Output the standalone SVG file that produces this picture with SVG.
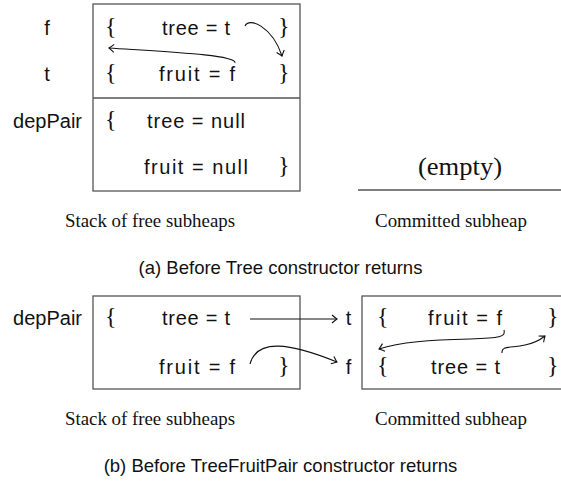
<svg xmlns="http://www.w3.org/2000/svg" width="561" height="483" viewBox="0 0 561 483">
<style>
.box{fill:none;stroke:#555;stroke-width:1.3}
.lbl{font-family:"Liberation Sans",Arial,sans-serif;font-size:20px;fill:#111}
.br{font-family:"Liberation Serif","Times New Roman",serif;font-size:24px;fill:#111}
.cap{font-family:"Liberation Serif","Times New Roman",serif;font-size:18.8px;fill:#111}
.title{font-family:"Liberation Sans",Arial,sans-serif;font-size:18.5px;fill:#111}
.arr{fill:none;stroke:#111;stroke-width:1.1;marker-end:url(#ah)}
</style>
<defs>
<marker id="ah" viewBox="-6 -5 7 10" markerWidth="7" markerHeight="10" refX="0" refY="0" orient="auto" markerUnits="userSpaceOnUse">
<path d="M-5,-4 Q-1.5,-1 0,0 Q-1.5,1 -5,4" fill="none" stroke="#111" stroke-width="1.1"/>
</marker>
</defs>
<rect width="561" height="483" fill="#fff"/>

<g id="part-a">
<g id="stack-a">
<rect class="box" x="93" y="4" width="207" height="187"/>
<line class="box" x1="93" y1="98" x2="300" y2="98"/>
<text class="lbl" x="47" y="35" text-anchor="middle">f</text>
<text class="lbl" x="47" y="81" text-anchor="middle">t</text>
<text class="lbl" x="82" y="128" text-anchor="end">depPair</text>
<g id="heap-f">
<text class="br" x="105" y="34">{</text>
<text class="lbl" x="162" y="35" textLength="68" lengthAdjust="spacing">tree = t</text>
<text class="br" x="278" y="34">}</text>
</g>
<g id="heap-t">
<text class="br" x="105" y="80">{</text>
<text class="lbl" x="159" y="81" textLength="76" lengthAdjust="spacing">fruit = f</text>
<text class="br" x="278" y="80">}</text>
</g>
<g id="heap-depPair">
<text class="br" x="105" y="127">{</text>
<text class="lbl" x="147" y="128" textLength="98" lengthAdjust="spacing">tree = null</text>
<text class="lbl" x="144" y="174" textLength="104" lengthAdjust="spacing">fruit = null</text>
<text class="br" x="278" y="173">}</text>
</g>
</g>
<g id="committed-a">
<text x="460" y="175" text-anchor="middle" font-family="Liberation Serif, Times New Roman, serif" font-size="25" fill="#111" textLength="84" lengthAdjust="spacingAndGlyphs">(empty)</text>
<line x1="358" y1="190" x2="561" y2="190" stroke="#555" stroke-width="1.3"/>
</g>
<text class="cap" x="65" y="227" textLength="170" lengthAdjust="spacingAndGlyphs">Stack of free subheaps</text>
<text class="cap" x="375" y="227" textLength="152" lengthAdjust="spacingAndGlyphs">Committed subheap</text>
<text class="title" x="280.5" y="274" text-anchor="middle">(a) Before Tree constructor returns</text>
</g>

<g id="part-b">
<g id="stack-b">
<rect class="box" x="93" y="296" width="207" height="93"/>
<text class="lbl" x="82" y="325" text-anchor="end">depPair</text>
<text class="br" x="105" y="324">{</text>
<text class="lbl" x="162" y="325" textLength="68" lengthAdjust="spacing">tree = t</text>
<text class="lbl" x="159" y="374" textLength="76" lengthAdjust="spacing">fruit = f</text>
<text class="br" x="278" y="373">}</text>
</g>
<g id="committed-b">
<rect class="box" x="362" y="296" width="220" height="93"/>
<text class="lbl" x="348.5" y="325" text-anchor="middle">t</text>
<text class="lbl" x="348.5" y="374" text-anchor="middle">f</text>
<g id="heap-t-b">
<text class="br" x="377" y="324">{</text>
<text class="lbl" x="428" y="325" textLength="74" lengthAdjust="spacing">fruit = f</text>
<text class="br" x="547" y="324">}</text>
</g>
<g id="heap-f-b">
<text class="br" x="377" y="373">{</text>
<text class="lbl" x="431" y="374" textLength="69" lengthAdjust="spacing">tree = t</text>
<text class="br" x="547" y="373">}</text>
</g>
</g>
<text class="cap" x="65" y="425" textLength="170" lengthAdjust="spacingAndGlyphs">Stack of free subheaps</text>
<text class="cap" x="375" y="425" textLength="152" lengthAdjust="spacingAndGlyphs">Committed subheap</text>
<text class="title" x="280.5" y="472" text-anchor="middle">(b) Before TreeFruitPair constructor returns</text>
</g>

<g id="connectors">
<path class="arr" d="M245,26 C249,17 272,26 282,56"/>
<path class="arr" d="M235,63 C237,55 170,52 109,48"/>
<path class="arr" d="M250,319 L337,319"/>
<path class="arr" d="M250,364 C257,338 290,343 337,362"/>
<path class="arr" d="M504,330 C506,337 500,338 470,339 C430,340 400,342 379,349"/>
<path class="arr" d="M502,353 C501,346 510,348 525,345 C535,343 540,340 545,336"/>
</g>
</svg>
